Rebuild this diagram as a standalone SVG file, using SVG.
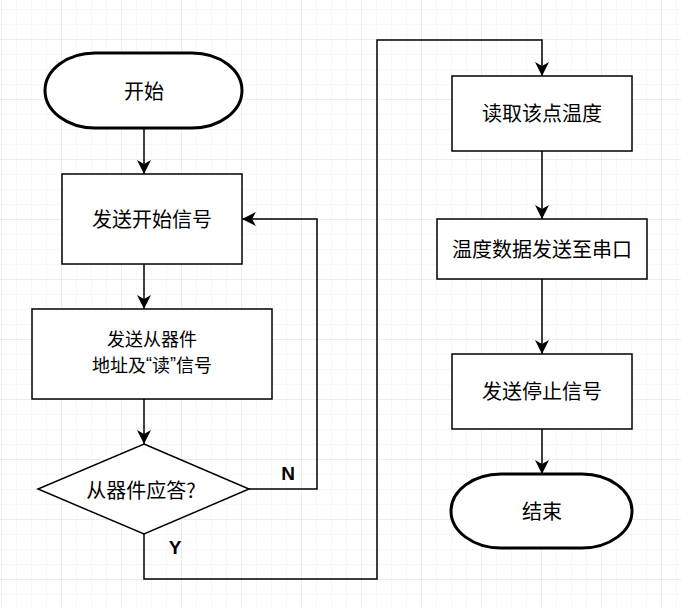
<svg xmlns="http://www.w3.org/2000/svg" width="681" height="607" viewBox="0 0 681 607">
<defs>
<pattern id="minor" x="1" y="9" width="15" height="15" patternUnits="userSpaceOnUse">
<path d="M0,0 H15 M0,0 V15" fill="none" stroke="#f0f0f0" stroke-width="1"/>
</pattern>
<pattern id="major" x="1" y="39" width="60" height="60" patternUnits="userSpaceOnUse">
<path d="M0,0 H60 M0,0 V60" fill="none" stroke="#e2e2e2" stroke-width="1"/>
</pattern>
<marker id="arr" markerUnits="userSpaceOnUse" markerWidth="16" markerHeight="16" refX="14" refY="7" orient="auto" viewBox="0 0 16 16">
<path d="M14,7 L0,0 L4,7 L0,14 Z" fill="#000"/>
</marker>
<style>
.box{fill:#fff;stroke:#000;stroke-width:1.5}
.term{fill:#fff;stroke:#000;stroke-width:3}
.t{font-family:"Noto Sans CJK SC","Liberation Sans",sans-serif;font-size:20px;fill:#000;text-anchor:middle;dominant-baseline:central}
.t2{font-size:18px}
.q{font-family:"Liberation Sans",sans-serif}
.lbl{font-family:"Liberation Sans",Arial,sans-serif;font-size:19px;font-weight:bold;fill:#000;text-anchor:middle;dominant-baseline:central}
.c{fill:none;stroke:#000;stroke-width:1.5;marker-end:url(#arr)}
</style>
</defs>
<rect width="681" height="607" fill="#fff"/>
<rect width="681" height="607" fill="url(#minor)"/>
<rect width="681" height="607" fill="url(#major)"/>

<g id="connectors">
<path class="c" d="M144,128 V174"/>
<path class="c" d="M144,264 V309"/>
<path class="c" d="M144,399 V444"/>
<path class="c" d="M249,489 H317 V219 H242"/>
<path class="c" d="M144,534 V579 H377 V40 H542 V76"/>
<path class="c" d="M542,151 V219"/>
<path class="c" d="M542,279 V354"/>
<path class="c" d="M542,429 V474"/>
<text class="lbl" x="288" y="473">N</text>
<text class="lbl" x="175" y="547">Y</text>
</g>

<g id="start">
<rect class="term" x="45" y="53" width="197" height="75" rx="50" ry="37.5"/>
<text class="t" x="144" y="90">开始</text>
</g>
<g id="send-start">
<rect class="box" x="62" y="174" width="180" height="90"/>
<text class="t" x="152" y="218">发送开始信号</text>
</g>
<g id="send-addr">
<rect class="box" x="32" y="309" width="240" height="90"/>
<text class="t t2" x="152" y="338">发送从器件</text>
<text class="t t2" x="152" y="364">地址及<tspan class="q">“</tspan>读<tspan class="q">”</tspan>信号</text>
</g>
<g id="ack">
<polygon class="box" points="144,444 249,489 144,534 38,489"/>
<text class="t" x="141" y="489">从器件应答?</text>
</g>
<g id="read-temp">
<rect class="box" x="452" y="76" width="180" height="75"/>
<text class="t" x="542" y="112">读取该点温度</text>
</g>
<g id="send-serial">
<rect class="box" x="437" y="219" width="210" height="60"/>
<text class="t" x="542" y="248">温度数据发送至串口</text>
</g>
<g id="send-stop">
<rect class="box" x="452" y="354" width="180" height="75"/>
<text class="t" x="542" y="390">发送停止信号</text>
</g>
<g id="end">
<rect class="term" x="451" y="474" width="181" height="74" rx="50" ry="37"/>
<text class="t" x="542" y="510">结束</text>
</g>
</svg>
